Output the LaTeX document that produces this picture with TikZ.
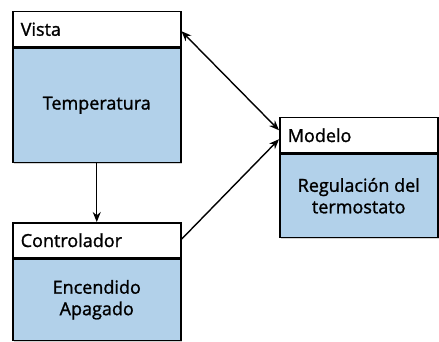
\documentclass[tikz,border=0pt]{standalone}
\usepackage{fontspec}
\setmainfont{Open Sans}[FakeBold=1.3]
\usetikzlibrary{arrows.meta, positioning, shadows}
\definecolor{cuerpo}{HTML}{B2D1EA}

\begin{document}
\begin{tikzpicture}[
    x=1pt, y=-1pt,
    every node/.style={font=\fontsize{18}{21.5}\selectfont},
    cabecera/.style={draw=black, line width=1.5pt, fill=white, anchor=north west, minimum height=35pt, inner xsep=8pt, align=left, text width=#1, drop shadow={shadow xshift=1.5pt, shadow yshift=-1.5pt, opacity=0.35}},
    cuerpobox/.style={draw=black, line width=1.5pt, fill=cuerpo, anchor=north, align=center, drop shadow={shadow xshift=1.5pt, shadow yshift=-1.5pt, opacity=0.35}},
    flecha/.style={-{Stealth[length=10pt, width=8pt]}, line width=1.4pt, black},
    dobleflecha/.style={{Stealth[length=10pt, width=8pt]}-{Stealth[length=10pt, width=8pt]}, line width=1.4pt, black}
]
\useasboundingbox (0,0) rectangle (439,342);

% ===== Vista =====
\node[cabecera=152pt] (vista) at (12,11) {Vista};
\node[cuerpobox, minimum width=168pt, minimum height=114pt] (vistac) at (vista.south) {Temperatura};

% ===== Controlador =====
\node[cabecera=152pt] (ctrl) at (12,222) {Controlador};
\node[cuerpobox, minimum width=168pt, minimum height=81pt] (ctrlc) at (ctrl.south) {Encendido\\Apagado};

% ===== Modelo =====
\node[cabecera=142pt] (modelo) at (279,117) {Modelo};
\node[cuerpobox, minimum width=158pt, minimum height=83pt] (modeloc) at (modelo.south) {Regulación del\\termostato};

% ===== Conexiones =====
\draw[flecha] (vistac.south) -- (ctrl.north);
\draw[dobleflecha] ([yshift=-2pt]vista.east) -- ([yshift=5pt]modelo.west);
\draw[flecha] ([yshift=1pt]ctrl.east) -- ([yshift=-4pt]modelo.west);

\end{tikzpicture}
\end{document}
